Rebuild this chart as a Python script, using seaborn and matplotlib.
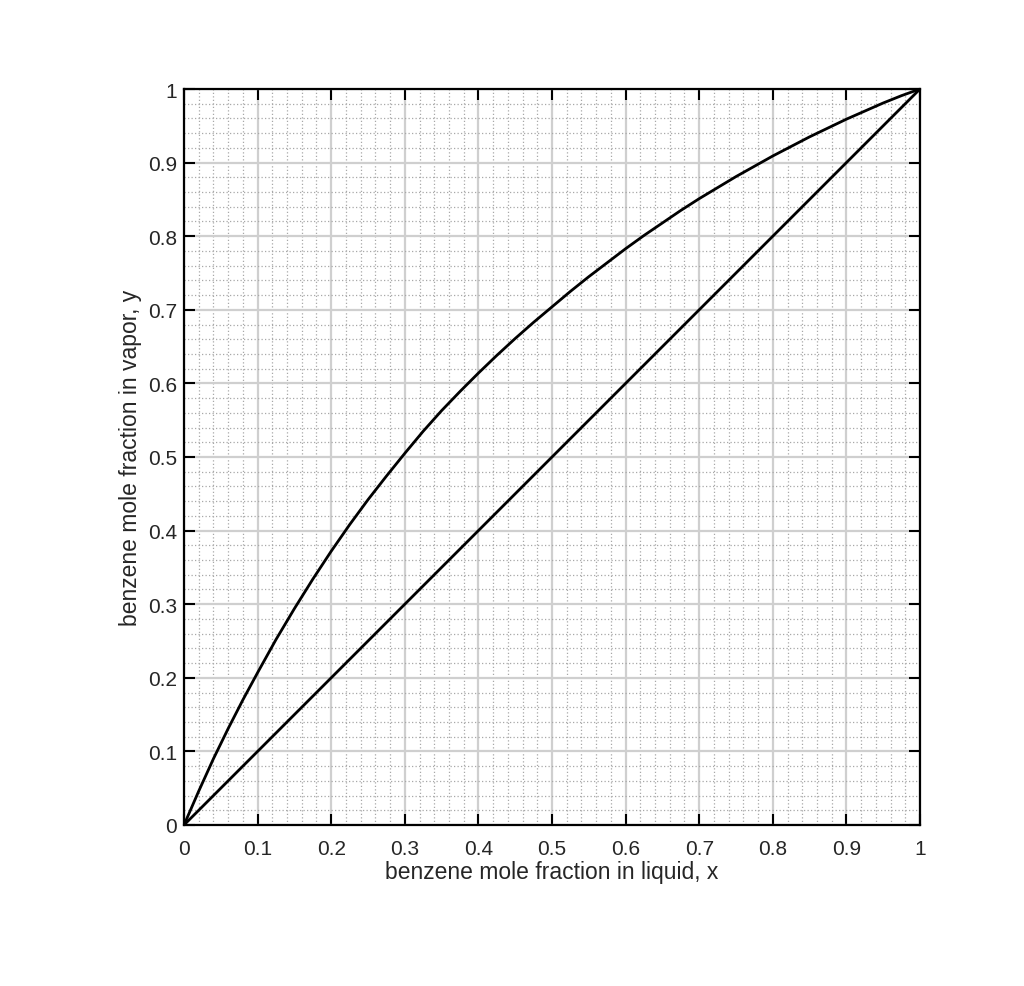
import matplotlib
matplotlib.use("Agg")
import matplotlib.pyplot as plt
import seaborn as sns
import pandas as pd
from matplotlib.ticker import MultipleLocator

# equilibrium curve
x_liquid = [0.0, 0.02, 0.04, 0.06, 0.08, 0.10, 0.125, 0.15, 0.175, 0.20, 0.225, 0.25,
            0.275, 0.30, 0.325, 0.35, 0.375, 0.40, 0.425, 0.45, 0.475, 0.50, 0.525,
            0.55, 0.575, 0.60, 0.625, 0.65, 0.675, 0.70, 0.725, 0.75, 0.775, 0.80,
            0.825, 0.85, 0.875, 0.90, 0.925, 0.95, 0.975, 1.0]
y_vapor = [0.0, 0.046, 0.090, 0.131, 0.170, 0.207, 0.252, 0.294, 0.334, 0.372, 0.408, 0.442,
           0.474, 0.505, 0.535, 0.563, 0.589, 0.614, 0.638, 0.661, 0.683, 0.704, 0.725,
           0.745, 0.764, 0.783, 0.801, 0.818, 0.835, 0.851, 0.866, 0.881, 0.895, 0.909,
           0.922, 0.935, 0.947, 0.959, 0.970, 0.981, 0.991, 1.0]
# 45-degree reference line
diag_x = [0.0, 1.0]
diag_y = [0.0, 1.0]

tick_vals = [0, 0.1, 0.2, 0.3, 0.4, 0.5, 0.6, 0.7, 0.8, 0.9, 1]
tick_labels = ["0", "0.1", "0.2", "0.3", "0.4", "0.5", "0.6", "0.7", "0.8", "0.9", "1"]

sns.set_style("ticks")
plt.rcParams['font.family'] = ['Liberation Sans', 'DejaVu Sans']

fig = plt.figure(figsize=(10.24, 9.87), dpi=100)
ax = fig.add_axes([184/1024, (987-826)/987, (920-184)/1024, (826-90)/987])

eq = pd.DataFrame({"x": x_liquid, "y": y_vapor})
dg = pd.DataFrame({"x": diag_x, "y": diag_y})
sns.lineplot(data=eq, x="x", y="y", ax=ax, color="black", linewidth=2.0, sort=False, zorder=5)
sns.lineplot(data=dg, x="x", y="y", ax=ax, color="black", linewidth=2.0, sort=False, zorder=5)

ax.set_xlim(0, 1)
ax.set_ylim(0, 1)
ax.set_xticks(tick_vals)
ax.set_xticklabels(tick_labels)
ax.set_yticks(tick_vals)
ax.set_yticklabels(tick_labels)
ax.xaxis.set_minor_locator(MultipleLocator(0.02))
ax.yaxis.set_minor_locator(MultipleLocator(0.02))

ax.grid(which="major", color="#cfcfcf", linewidth=1.6, linestyle="-", zorder=1)
ax.grid(which="minor", color="#a8a8a8", linewidth=0.9, linestyle=(0, (1, 1.8)), zorder=1)
ax.set_axisbelow(True)

ax.tick_params(which="major", direction="in", length=8, width=1.5, top=True, right=True,
               labelsize=15, colors="black", labelcolor="#262626")
ax.tick_params(axis="x", which="major", pad=10)
ax.tick_params(axis="y", which="major", pad=5)
ax.tick_params(which="minor", length=0)
for s in ax.spines.values():
    s.set_linewidth(1.6)
    s.set_color("black")
    s.set_visible(True)

ax.set_xlabel("benzene mole fraction in liquid, x", fontsize=16.5, color="#262626", labelpad=1.5)
ax.set_ylabel("benzene mole fraction in vapor, y", fontsize=16.5, color="#262626", labelpad=4.5)

fig.savefig("out.png", dpi=100, facecolor="white")
